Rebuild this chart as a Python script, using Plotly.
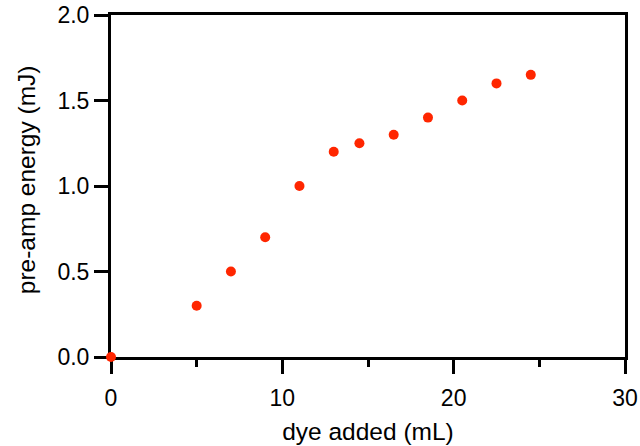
import plotly.graph_objects as go

# dye volume added (mL) and measured pre-amp energy (mJ)
dye_added_ml = [0, 5, 7, 9, 11, 13, 14.5, 16.5, 18.5, 20.5, 22.5, 24.5]
preamp_energy_mj = [0.0, 0.3, 0.5, 0.7, 1.0, 1.2, 1.25, 1.3, 1.4, 1.5, 1.6, 1.65]

x_ticks = [0, 10, 20, 30]
y_ticks = [0.0, 0.5, 1.0, 1.5, 2.0]
y_tick_labels = ["0.0", "0.5", "1.0", "1.5", "2.0"]

FONT = "Liberation Sans, Arial, Helvetica, sans-serif"
TITLE_FONT = dict(family=FONT, size=24.5, color="black")

fig = go.Figure(
    go.Scatter(
        x=dye_added_ml,
        y=preamp_energy_mj,
        mode="markers",
        marker=dict(size=10, color="#FF2600", line=dict(width=0)),
        cliponaxis=False,
        showlegend=False,
    )
)

axis_common = dict(
    showline=True,
    linecolor="black",
    linewidth=3,
    mirror=True,
    ticks="outside",
    ticklen=14,
    tickwidth=3,
    tickcolor="black",
    showgrid=False,
    zeroline=False,
    layer="below traces",
    tickfont=dict(family=FONT, size=23, color="black"),
)

fig.update_xaxes(
    **axis_common,
    range=[0, 30],
    tickvals=x_ticks,
    ticklabelstandoff=4,
    minor=dict(ticks="outside", ticklen=7, tickwidth=3, tickcolor="black",
               tick0=0, dtick=5, showgrid=False),
    title=dict(text="dye added (mL)", font=TITLE_FONT, standoff=14),
)

fig.update_yaxes(
    **axis_common,
    range=[0, 2],
    tickvals=y_ticks,
    ticktext=y_tick_labels,
)

# y-axis title placed as a rotated annotation left of the tick labels
fig.add_annotation(
    text="pre-amp energy (mJ)",
    xref="paper", yref="paper",
    x=-0.165, y=0.5175,
    xanchor="center", yanchor="middle",
    textangle=-90,
    showarrow=False,
    font=TITLE_FONT,
)

fig.update_layout(
    width=640,
    height=446,
    margin=dict(l=111, r=15, t=15, b=89, autoexpand=False),
    plot_bgcolor="white",
    paper_bgcolor="white",
)

fig.write_html("out.html")
